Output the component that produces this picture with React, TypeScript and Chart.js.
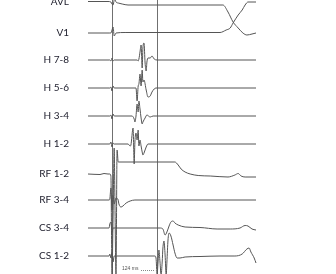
import { useEffect, useRef } from "react";
import { Chart, registerables } from "chart.js";

Chart.register(...registerables);

// ---- data: channel names, time (ms from pacing marker) and deflection (display units, + = up)
const CHANNELS = ["AVL", "V1", "H 7-8", "H 5-6", "H 3-4", "H 1-2", "RF 1-2", "RF 3-4", "CS 3-4", "CS 1-2"];

const AVL: [number, number][] = [
  [-66, 0.5], [-11, 0.5], [-3, 0], [0, -2], [3, -3], [6, 2], [8, 3], [11, 0], [17, -1], [28, -2], [44, -3],
  [77, -3], [305, -3], [319, -10], [333, -20], [347, -26], [360, -31], [371, -33], [385, -32], [396, -31],
];
const V1: [number, number][] = [
  [-66, 0], [-6, 0], [-3, 0], [0, 3], [3, 6], [6, -3], [8, -2], [11, 0], [36, 0.5], [297, 0.5], [314, 3],
  [325, 5], [333, 10], [347, 18], [358, 23], [366, 28], [374, 31], [385, 31], [396, 31],
];
const H78: [number, number][] = [
  [-66, 0], [-6, 0], [-3, -1], [0, 2], [3, -1], [6, 0], [69, 0], [72, -1], [74, 1], [77, 8], [80, 15],
  [83, -8], [85, 12], [88, 17], [91, -3], [94, -11], [96, -2], [99, 2], [105, 2], [110, 4], [116, 1],
  [124, 0], [396, 0],
];
const H56: [number, number][] = [
  [-66, 0], [-6, 0], [-3, 1], [0, -3], [3, 2], [6, 0], [66, 0], [69, -13], [72, 2], [74, 4], [77, 14],
  [80, 2], [83, 18], [85, 6], [88, 8], [94, -2], [99, -9], [105, -8], [110, -4], [116, -1], [121, 0], [396, 0],
];
const H34: [number, number][] = [
  [-66, 0], [-6, 0], [-3, 1], [0, -3], [3, 2], [6, 0], [55, 0], [61, -3], [63, -6], [66, 0], [69, 12],
  [72, 4], [74, 15], [77, 7], [80, -2], [83, -8], [85, -6], [91, -2], [96, 1], [105, -1], [113, 0], [396, 0],
];
const H12: [number, number][] = [
  [-66, 0], [-6, 0], [-3, 2], [0, -3], [3, 1], [6, 0], [44, 0], [50, -2], [52, -1], [58, 16], [61, -20],
  [63, 2], [66, 11], [69, 4], [72, 14], [74, -2], [77, 4], [80, -2], [83, -8], [85, -11], [88, -9],
  [94, -3], [99, 0], [396, 0],
];
const RF12: [number, number][] = [
  [-66, 0], [-33, -0.5], [-22, 0.5], [-11, 0], [-6, 0], [-3, -2], [0, -101], [3, -41], [6, 26], [8, -26],
  [11, -101], [14, 24], [17, 12], [173, 12], [182, 9], [190, 5], [201, 2], [215, 0], [237, -1.5],
  [270, -2], [319, -3], [338, -1], [347, 0.5], [355, -2], [366, -3], [396, -3],
];
const RF34: [number, number][] = [
  [-66, 0], [-8, 0], [-6, 1], [-3, 12], [0, -10], [3, 5], [6, -4], [11, 2], [17, 0], [19, -4], [25, -7],
  [30, -6], [39, -3], [50, -1], [63, 0], [396, 0],
];
const CS34: [number, number][] = [
  [-66, 0], [-8, 0], [-6, 4], [-3, 6], [0, -4], [3, 0], [132, 0], [140, -1], [146, -7], [151, -4], [157, 2],
  [162, 6], [168, 7], [173, 5], [182, 3], [201, 1], [242, 0.5], [289, -1], [325, -1], [352, 0], [366, 2.5],
  [374, 2], [385, -1], [396, -2],
];
const CS12: [number, number][] = [
  [-66, 0], [-8, 0], [-6, 2], [-3, -2], [0, 4], [3, -6], [6, 0], [118, 0], [121, -2], [124, -18], [127, -4],
  [129, 6], [132, -6], [135, -19], [138, -6], [140, 8], [143, 15], [146, 1], [149, -19], [151, -6],
  [154, 16], [157, 23], [162, 20], [168, 11], [173, 3], [179, -2], [187, -2], [201, -1], [242, -0.5],
  [297, 0], [338, 0], [358, 2], [371, 7], [377, 8], [382, 4], [391, -2], [396, -7],
];

const SERIES = [AVL, V1, H78, H56, H34, H12, RF12, RF34, CS34, CS12];
const MARKERS_MS = [0, 124];
const INTERVAL_LABEL = "124 ms";

// ---- layout (not data)
const W = 336;
const H = 274;
const ROW_OFFSET = [2, 33, 60, 88, 116, 144, 174, 200, 228, 256];
const TRACE_COLOR = "#555555";

const annotPlugin = {
  id: "intervalLabel",
  afterDatasetsDraw(chart: any) {
    const { ctx, scales, chartArea } = chart;
    const x0 = scales.x.getPixelForValue(MARKERS_MS[0]);
    const x1 = scales.x.getPixelForValue(MARKERS_MS[1]);
    const yy = chartArea.bottom - 5;
    ctx.save();
    ctx.font = '5px "Liberation Sans"';
    ctx.fillStyle = "#555";
    ctx.textBaseline = "middle";
    ctx.textAlign = "left";
    ctx.fillText(INTERVAL_LABEL, x0 + 10, yy);
    ctx.strokeStyle = "#888";
    ctx.lineWidth = 1;
    ctx.setLineDash([1, 1]);
    ctx.beginPath();
    ctx.moveTo(x0 + 29, yy + 1.5);
    ctx.lineTo(x1 - 2, yy + 1.5);
    ctx.stroke();
    ctx.restore();
  },
};

export default function App() {
  const ref = useRef<HTMLCanvasElement | null>(null);
  useEffect(() => {
    if (!ref.current) return;
    const chart = new Chart(ref.current, {
      type: "line",
      data: {
        datasets: SERIES.map((s, i) => ({
          label: CHANNELS[i],
          data: s.map(([t, a]) => ({ x: t, y: -ROW_OFFSET[i] + a })),
          borderColor: TRACE_COLOR,
          borderWidth: 1,
          pointRadius: 0,
          cubicInterpolationMode: "monotone" as const,
          fill: false,
        })),
      },
      options: {
        responsive: false,
        animation: false,
        events: [],
        layout: { padding: 0 },
        plugins: { legend: { display: false }, tooltip: { enabled: false } },
        scales: {
          x: {
            type: "linear",
            min: -88,
            max: 616,
            afterBuildTicks: (s: any) => {
              s.ticks = MARKERS_MS.map((v) => ({ value: v }));
            },
            ticks: { display: false },
            grid: { color: "#707070", lineWidth: 1, drawTicks: false },
            border: { display: false },
            afterFit: (s: any) => {
              s.height = 0;
              s.paddingLeft = 0;
              s.paddingRight = 0;
            },
          },
          y: {
            type: "linear",
            min: -H,
            max: 0,
            afterBuildTicks: (s: any) => {
              s.ticks = ROW_OFFSET.map((o) => ({ value: -o }));
            },
            ticks: {
              autoSkip: false,
              padding: 11,
              color: "#222230",
              font: { family: "Lato", size: 10 },
              callback: (_v: any, i: number) => CHANNELS[i],
            },
            grid: { display: false, drawTicks: false },
            border: { display: false },
            afterFit: (s: any) => {
              s.width = 80;
              s.paddingTop = 0;
              s.paddingBottom = 0;
            },
          },
        },
      },
      plugins: [annotPlugin],
    });
    return () => chart.destroy();
  }, []);
  return (
    <div style={{ position: "fixed", left: 0, top: 0, width: W, height: H, background: "#fff" }}>
      <canvas ref={ref} width={W} height={H} style={{ display: "block" }} />
    </div>
  );
}
